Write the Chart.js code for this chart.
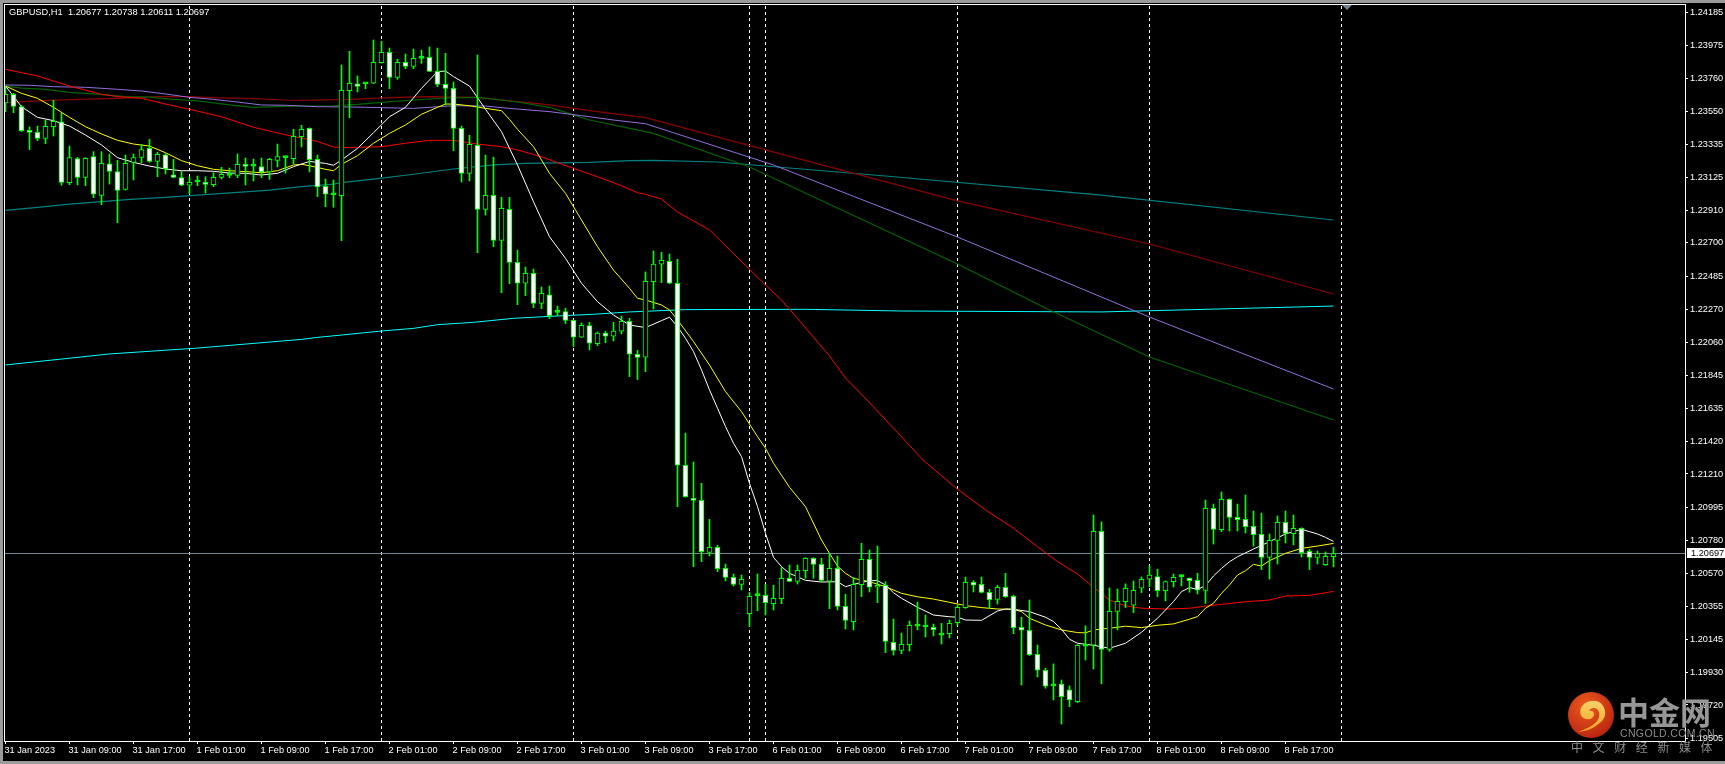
<!DOCTYPE html>
<html>
<head>
<meta charset="utf-8">
<title>GBPUSD,H1</title>
<script src="https://cdn.jsdelivr.net/npm/chart.js@4/dist/chart.umd.min.js"></script>
<style>
html, body { margin: 0; padding: 0; background: #000; overflow: hidden; }
#wrap { position: relative; width: 1725px; height: 764px; background: #000; overflow: hidden; }
#chart { position: absolute; left: 0; top: 0; }
.strip { position: absolute; background: #9b9b9b; }
.txt { position: absolute; white-space: pre; font-family: "Liberation Sans", sans-serif; }
#head { left: 9px; top: 6px; font-size: 9.3px; line-height: 13px; color: #fff; }
#mark { left: 1342px; top: 5px; width: 0; height: 0; position: absolute;
  border-left: 5px solid transparent; border-right: 5px solid transparent; border-top: 5px solid #708090; }
#logo { position: absolute; left: 1568px; top: 692px; width: 46px; height: 46px; }
#wm1 { left: 1618px; top: 690px; font: bold 31px "Noto Sans CJK SC"; line-height: 42px; color: #979797; }
#wm2 { left: 1620px; top: 726px; font-size: 10.5px; line-height: 14px; color: #8c8c8c; letter-spacing: .35px; }
#wm3 { left: 1571px; top: 739px; font: 12px "Noto Sans CJK SC"; line-height: 16px; color: #8c8c8c; letter-spacing: 9.6px; }
</style>
</head>
<body>
<div id="wrap">
  <canvas id="chart" width="1725" height="764"></canvas>
  <div class="strip" style="left:0;top:0;width:1725px;height:3px"></div>
  <div class="strip" style="left:0;top:0;width:3px;height:764px"></div>
  <div class="strip" style="left:0;top:761px;width:1725px;height:3px"></div>
  <div id="head" class="txt">GBPUSD,H1  1.20677 1.20738 1.20611 1.20697</div>
  <div id="mark"></div>
  <svg id="logo" viewBox="0 0 46 46">
    <defs>
      <radialGradient id="ball" cx="40%" cy="30%" r="80%">
        <stop offset="0" stop-color="#ee5a1c"/><stop offset="1" stop-color="#b3200f"/>
      </radialGradient>
      <linearGradient id="swirl" x1="0" y1="0" x2="0" y2="1">
        <stop offset="0" stop-color="#f7d26a"/><stop offset="1" stop-color="#f2a31f"/>
      </linearGradient>
    </defs>
    <circle cx="23" cy="23" r="23" fill="url(#ball)"/>
    <path fill="url(#swirl)" d="M10 40c8-1 14-3 19-7 6-4 9-8 8-14-1-7-7-11-13-10-5 0-9 3-11 7-2 5 0 10 5 11 4 1 8-1 8-5 0-3-3-4-5-3 1-3 5-4 8-2 3 3 3 8 0 12-4 5-11 8-19 11z"/>
  </svg>
  <div id="wm1" class="txt">中金网</div>
  <div id="wm2" class="txt">CNGOLD.COM.CN</div>
  <div id="wm3" class="txt">中文财经新媒体</div>
</div>
<script>
const opens = [
  1.23603,1.23659,1.23579,1.23426,1.23413,1.23375,1.23450,1.23482,1.23089,1.23244,
  1.23123,1.23257,1.23007,1.23211,1.23160,1.23046,1.23220,1.23252,1.23310,1.23226,
  1.23269,1.23140,1.23121,1.23072,1.23093,1.23091,1.23076,1.23123,1.23136,1.23136,
  1.23205,1.23196,1.23192,1.23158,1.23233,1.23250,1.23244,1.23385,1.23439,1.23239,
  1.23065,1.23011,1.23005,1.23682,1.23727,1.23727,1.23730,1.23863,1.23929,1.23768,
  1.23865,1.23839,1.23891,1.23897,1.23807,1.23723,1.23697,1.23439,1.23149,1.23330,
  1.22917,1.23007,1.22717,1.22917,1.22575,1.22440,1.22504,1.22310,1.22366,1.22252,
  1.22257,1.22201,1.22092,1.22167,1.22051,1.22118,1.22098,1.22131,1.22195,1.21982,
  1.21963,1.22451,1.22563,1.22582,1.22440,1.21266,1.21053,1.21040,1.20704,1.20737,
  1.20601,1.20543,1.20498,1.20309,1.20425,1.20427,1.20373,1.20406,1.20537,1.20517,
  1.20586,1.20666,1.20627,1.20519,1.20601,1.20356,1.20257,1.20496,1.20659,1.20479,
  1.20492,1.20124,1.20072,1.20109,1.20229,1.20223,1.20221,1.20171,1.20180,1.20251,
  1.20348,1.20511,1.20498,1.20446,1.20401,1.20479,1.20421,1.20221,1.20202,1.20047,
  1.19944,1.19843,1.19854,1.19817,1.19742,1.20099,1.20105,1.20840,1.20079,1.20324,
  1.20387,1.20363,1.20473,1.20531,1.20548,1.20458,1.20516,1.20548,1.20537,1.20524,
  1.20459,1.20988,1.20851,1.21046,1.20930,1.20917,1.20872,1.20821,1.20672,1.20782,
  1.20898,1.20825,1.20859,1.20711,1.20672,1.20625,1.20677
];
const highs = [
  1.23712,1.23665,1.23588,1.23448,1.23454,1.23493,1.23620,1.23536,1.23325,1.23252,
  1.23250,1.23289,1.23289,1.23274,1.23233,1.23267,1.23274,1.23336,1.23368,1.23285,
  1.23276,1.23239,1.23162,1.23127,1.23132,1.23127,1.23153,1.23188,1.23183,1.23274,
  1.23248,1.23241,1.23248,1.23246,1.23338,1.23257,1.23433,1.23459,1.23442,1.23267,
  1.23112,1.23106,1.23848,1.23936,1.23777,1.23732,1.24009,1.24000,1.23957,1.23886,
  1.23919,1.23951,1.23944,1.23964,1.23957,1.23923,1.23738,1.23454,1.23394,1.23912,
  1.23267,1.23254,1.22994,1.22994,1.22654,1.22545,1.22532,1.22416,1.22422,1.22293,
  1.22279,1.22205,1.22184,1.22188,1.22126,1.22131,1.22188,1.22229,1.22214,1.22008,
  1.22513,1.22649,1.22640,1.22629,1.22595,1.21474,1.21287,1.21150,1.20917,1.20750,
  1.20629,1.20565,1.20558,1.20446,1.20565,1.20498,1.20492,1.20606,1.20623,1.20623,
  1.20670,1.20670,1.20666,1.20698,1.20681,1.20434,1.20543,1.20763,1.20720,1.20745,
  1.20515,1.20274,1.20184,1.20262,1.20384,1.20300,1.20242,1.20246,1.20268,1.20365,
  1.20545,1.20522,1.20545,1.20466,1.20492,1.20569,1.20429,1.20286,1.20397,1.20107,
  1.19957,1.19985,1.19881,1.19843,1.20109,1.20230,1.20946,1.20901,1.20475,1.20468,
  1.20501,1.20520,1.20546,1.20617,1.20595,1.20520,1.20565,1.20559,1.20540,1.20570,
  1.21042,1.21016,1.21094,1.21050,1.21016,1.21074,1.20971,1.20958,1.20823,1.20939,
  1.20971,1.20945,1.20863,1.20724,1.20713,1.20707,1.20738
];
const lows = [
  1.23547,1.23540,1.23418,1.23302,1.23360,1.23340,1.23390,1.23072,1.23076,1.23074,
  1.23069,1.22992,1.22947,1.23080,1.22831,1.23041,1.23106,1.23218,1.23220,1.23127,
  1.23145,1.23120,1.23069,1.23016,1.23069,1.23022,1.23063,1.23112,1.23121,1.23121,
  1.23074,1.23100,1.23121,1.23110,1.23190,1.23151,1.23209,1.23319,1.23158,1.22999,
  1.22934,1.22930,1.22715,1.23508,1.23674,1.23695,1.23727,1.23860,1.23695,1.23755,
  1.23824,1.23824,1.23858,1.23805,1.23708,1.23590,1.23295,1.23093,1.23100,1.22637,
  1.22880,1.22676,1.22379,1.22437,1.22302,1.22360,1.22283,1.22276,1.22212,1.22229,
  1.22180,1.22032,1.22090,1.22010,1.22038,1.22057,1.22068,1.22113,1.21838,1.21819,
  1.21870,1.22274,1.22444,1.22436,1.20999,1.21060,1.20612,1.20644,1.20681,1.20580,
  1.20520,1.20487,1.20462,1.20225,1.20328,1.20300,1.20333,1.20373,1.20515,1.20500,
  1.20537,1.20537,1.20515,1.20341,1.20333,1.20210,1.20204,1.20419,1.20449,1.20380,
  1.20057,1.20042,1.20051,1.20068,1.20204,1.20158,1.20165,1.20113,1.20152,1.20234,
  1.20343,1.20449,1.20442,1.20343,1.20371,1.20414,1.20180,1.19849,1.20038,1.19901,
  1.19828,1.19752,1.19597,1.19709,1.19735,1.20010,1.19952,1.19856,1.20066,1.20204,
  1.20348,1.20316,1.20445,1.20483,1.20419,1.20391,1.20481,1.20488,1.20447,1.20436,
  1.20375,1.20758,1.20838,1.20842,1.20842,1.20829,1.20745,1.20593,1.20532,1.20629,
  1.20765,1.20752,1.20674,1.20593,1.20629,1.20620,1.20611
];
const closes = [
  1.23659,1.23581,1.23424,1.23413,1.23375,1.23452,1.23484,1.23091,1.23250,1.23123,
  1.23246,1.23014,1.23213,1.23162,1.23039,1.23213,1.23250,1.23302,1.23226,1.23272,
  1.23177,1.23123,1.23072,1.23091,1.23096,1.23078,1.23123,1.23143,1.23139,1.23207,
  1.23194,1.23198,1.23158,1.23239,1.23257,1.23252,1.23388,1.23433,1.23237,1.23061,
  1.23014,1.23012,1.23684,1.23730,1.23710,1.23730,1.23865,1.23929,1.23768,1.23865,
  1.23839,1.23891,1.23893,1.23807,1.23723,1.23697,1.23439,1.23149,1.23336,1.22917,
  1.23007,1.22717,1.22923,1.22575,1.22440,1.22504,1.22310,1.22375,1.22231,1.22254,
  1.22201,1.22092,1.22169,1.22053,1.22118,1.22098,1.22131,1.22195,1.21982,1.21961,
  1.22453,1.22563,1.22588,1.22440,1.21266,1.21063,1.21040,1.20709,1.20737,1.20599,
  1.20543,1.20498,1.20530,1.20421,1.20427,1.20380,1.20408,1.20537,1.20517,1.20588,
  1.20666,1.20627,1.20524,1.20601,1.20356,1.20266,1.20498,1.20659,1.20479,1.20492,
  1.20130,1.20072,1.20111,1.20234,1.20231,1.20225,1.20206,1.20173,1.20247,1.20350,
  1.20511,1.20492,1.20446,1.20399,1.20479,1.20418,1.20219,1.20202,1.20045,1.19944,
  1.19841,1.19845,1.19774,1.19753,1.20105,1.20101,1.20840,1.20079,1.20324,1.20389,
  1.20473,1.20460,1.20531,1.20557,1.20458,1.20516,1.20544,1.20550,1.20522,1.20460,
  1.20988,1.20853,1.21046,1.20930,1.20915,1.20870,1.20818,1.20672,1.20782,1.20898,
  1.20827,1.20859,1.20702,1.20672,1.20696,1.20679,1.20697
];

// moving averages, [bar, price]
const whiteMa = [[0,1.23712],[2,1.23579],[4,1.23510],[6,1.23489],[8,1.23454],[10,1.23396],[12,1.23332],[14,1.23250],[16,1.23220],[18,1.23196],[20,1.23177],[22,1.23166],[24,1.23166],[26,1.23162],[28,1.23151],[30,1.23149],[32,1.23138],[34,1.23149],[36,1.23192],[38,1.23226],[40,1.23213],[41,1.23201],[42,1.23235],[44,1.23310],[46,1.23411],[48,1.23514],[50,1.23575],[52,1.23697],[54,1.23805],[55,1.23809],[56,1.23773],[58,1.23712],[60,1.23562],[62,1.23418],[64,1.23203],[66,1.22966],[68,1.22740],[70,1.22601],[72,1.22440],[74,1.22321],[76,1.22235],[78,1.22171],[80,1.22154],[82,1.22199],[83,1.22221],[84,1.22160],[85,1.22085],[86,1.21999],[87,1.21881],[88,1.21752],[89,1.21634],[90,1.21516],[91,1.21408],[92,1.21322],[93,1.21149],[94,1.21000],[95,1.20827],[96,1.20672],[97,1.20612],[98,1.20569],[100,1.20524],[102,1.20513],[104,1.20515],[105,1.20483],[106,1.20498],[108,1.20522],[109,1.20522],[110,1.20494],[111,1.20444],[112,1.20408],[114,1.20350],[116,1.20300],[118,1.20289],[119,1.20286],[120,1.20268],[122,1.20266],[124,1.20326],[125,1.20339],[126,1.20337],[128,1.20322],[130,1.20286],[131,1.20258],[132,1.20208],[133,1.20144],[134,1.20118],[136,1.20105],[138,1.20086],[140,1.20118],[142,1.20189],[144,1.20279],[146,1.20387],[147,1.20451],[148,1.20477],[149,1.20466],[150,1.20489],[151,1.20552],[152,1.20601],[153,1.20644],[154,1.20676],[156,1.20726],[158,1.20773],[160,1.20823],[162,1.20853],[163,1.20838],[164,1.20823],[165,1.20801],[166,1.20775]];
const yellowMa = [[0,1.23712],[2,1.23665],[4,1.23633],[6,1.23575],[8,1.23510],[10,1.23450],[12,1.23403],[14,1.23362],[16,1.23338],[18,1.23325],[20,1.23282],[22,1.23231],[24,1.23198],[26,1.23175],[28,1.23166],[30,1.23160],[32,1.23153],[34,1.23166],[36,1.23203],[37,1.23207],[38,1.23198],[40,1.23175],[41,1.23166],[42,1.23207],[44,1.23263],[46,1.23343],[48,1.23407],[50,1.23461],[52,1.23530],[54,1.23575],[55,1.23596],[56,1.23596],[58,1.23585],[60,1.23568],[62,1.23553],[63,1.23497],[64,1.23433],[66,1.23321],[68,1.23149],[70,1.23020],[72,1.22848],[74,1.22676],[76,1.22525],[78,1.22407],[79,1.22343],[80,1.22332],[82,1.22300],[83,1.22268],[84,1.22204],[86,1.22064],[88,1.21913],[90,1.21741],[92,1.21612],[94,1.21451],[95,1.21376],[96,1.21279],[98,1.21124],[100,1.20999],[102,1.20784],[103,1.20698],[104,1.20616],[105,1.20569],[106,1.20537],[108,1.20515],[110,1.20483],[112,1.20440],[114,1.20418],[116,1.20403],[118,1.20382],[120,1.20361],[122,1.20348],[124,1.20339],[126,1.20337],[127,1.20322],[128,1.20279],[130,1.20236],[132,1.20204],[134,1.20187],[135,1.20185],[136,1.20204],[138,1.20215],[140,1.20228],[142,1.20219],[144,1.20234],[146,1.20243],[148,1.20273],[149,1.20290],[150,1.20344],[151,1.20376],[152,1.20440],[153,1.20494],[154,1.20558],[155,1.20586],[156,1.20627],[157,1.20616],[158,1.20651],[160,1.20698],[162,1.20730],[164,1.20745],[166,1.20762]];
const redMa = [[0,1.23820],[4,1.23777],[8,1.23712],[12,1.23659],[14,1.23644],[17,1.23633],[20,1.23596],[23,1.23562],[27,1.23514],[31,1.23446],[35,1.23398],[39,1.23355],[41,1.23318],[43,1.23315],[47,1.23321],[50,1.23343],[53,1.23362],[56,1.23362],[59,1.23338],[62,1.23321],[64,1.23300],[67,1.23256],[69,1.23218],[71,1.23181],[74,1.23127],[77,1.23069],[79,1.23024],[80,1.23014],[82,1.22983],[84,1.22900],[88,1.22784],[93,1.22530],[95,1.22429],[97,1.22332],[99,1.22214],[103,1.21971],[105,1.21829],[107.7,1.21687],[111.5,1.21478],[114.7,1.21300],[118.7,1.21124],[122.5,1.20978],[126,1.20860],[129,1.20741],[131.5,1.20645],[134,1.20565],[136,1.20479],[138,1.20397],[140,1.20359],[142,1.20344],[145,1.20339],[148,1.20344],[150,1.20358],[152,1.20369],[155,1.20386],[158,1.20397],[160,1.20423],[163,1.20427],[165,1.20444],[166,1.20453]];
const darkRedMa = [[0,1.23605],[4,1.23616],[9,1.23626],[14,1.23633],[19,1.23644],[23,1.23644],[26,1.23637],[31,1.23631],[35,1.23622],[37,1.23620],[43,1.23626],[49,1.23639],[53,1.23644],[59,1.23639],[63,1.23616],[68,1.23590],[71,1.23568],[74,1.23547],[80,1.23508],[95,1.23300],[119,1.22971],[143,1.22693],[166,1.22371]];
const tealMa = [[0,1.22910],[4,1.22930],[8,1.22951],[12,1.22966],[16,1.22983],[20,1.22994],[24,1.23009],[29,1.23026],[33,1.23041],[37,1.23063],[41,1.23080],[42,1.23089],[46,1.23112],[51,1.23143],[56,1.23177],[61,1.23203],[65,1.23213],[73,1.23220],[78,1.23231],[81,1.23233],[89,1.23222],[110,1.23132],[137,1.23009],[166,1.22848]];
const cyanMa = [[0,1.21913],[13,1.21984],[24,1.22022],[37,1.22078],[39,1.22091],[42,1.22106],[47,1.22132],[51,1.22149],[54,1.22173],[58.5,1.22188],[63.5,1.22214],[69,1.22229],[73.5,1.22240],[78,1.22255],[85,1.22270],[100,1.22272],[112,1.22261],[137,1.22255],[166,1.22293]];
const purpleMa = [[0,1.23719],[3,1.23717],[6,1.23708],[10,1.23704],[14,1.23691],[17,1.23680],[20,1.23661],[23,1.23639],[26,1.23626],[29,1.23609],[32,1.23590],[35,1.23588],[39,1.23579],[43,1.23577],[45,1.23575],[51,1.23568],[56,1.23585],[60,1.23583],[63,1.23568],[68,1.23547],[72,1.23521],[76,1.23493],[80,1.23469],[96,1.23203],[119,1.22738],[143,1.22222],[166,1.21758]];
const greenMa = [[0,1.23712],[2,1.23699],[5,1.23691],[8,1.23671],[11,1.23661],[15,1.23644],[18,1.23641],[21,1.23626],[24,1.23616],[28,1.23590],[31,1.23575],[36,1.23583],[41,1.23585],[44,1.23594],[47,1.23607],[51,1.23622],[55,1.23635],[59,1.23639],[61,1.23628],[64,1.23609],[68,1.23575],[70,1.23542],[73,1.23493],[77,1.23450],[81,1.23407],[93,1.23190],[119,1.22564],[130,1.22280],[143,1.21964],[166,1.21558]];

const priceTicks = [1.24185,1.23975,1.23760,1.23550,1.23335,1.23125,1.22910,1.22700,1.22485,1.22270,1.22060,1.21845,1.21635,1.21420,1.21210,1.20995,1.20780,1.20570,1.20355,1.20145,1.19930,1.19720,1.19505];
const timeTickBars = [0,8,16,24,32,40,48,56,64,72,80,88,96,104,112,120,128,136,144,152,160];
const timeTickLabels = ['31 Jan 2023','31 Jan 09:00','31 Jan 17:00','1 Feb 01:00','1 Feb 09:00','1 Feb 17:00','2 Feb 01:00','2 Feb 09:00','2 Feb 17:00','3 Feb 01:00','3 Feb 09:00','3 Feb 17:00','6 Feb 01:00','6 Feb 09:00','6 Feb 17:00','7 Feb 01:00','7 Feb 09:00','7 Feb 17:00','8 Feb 01:00','8 Feb 09:00','8 Feb 17:00'];
const separatorBars = [23,47,71,93,95,119,143,167];
const bidPrice = 1.20697;

const PRICE_MAX = 1.242348, PRICE_MIN = 1.194876;
const BAR_MIN = -0.0625, BAR_MAX = 209.9375;
const GREEN = '#00ff00';

function maLine(points, color, order, width) {
    return {
        type: 'line', data: points.map(p => ({ x: p[0], y: p[1] })),
        borderColor: color, borderWidth: width, pointRadius: 0, tension: 0, order
    };
}

const wicks = {
    type: 'bar', grouped: false, barThickness: 1, backgroundColor: GREEN, order: 2,
    data: highs.map((h, i) => ({ x: i, y: [lows[i], h] }))
};
const bodies = {
    type: 'bar', grouped: false, barThickness: 5, minBarLength: 2, order: 1,
    borderColor: GREEN, borderWidth: 1, borderSkipped: false,
    backgroundColor: ctx => {
        const i = ctx.dataIndex;
        if (Math.abs(opens[i] - closes[i]) < 0.00008) return GREEN;
        return closes[i] >= opens[i] ? '#000000' : '#ffffff';
    },
    data: opens.map((o, i) => ({ x: i, y: [Math.min(o, closes[i]), Math.max(o, closes[i])] }))
};
const separators = separatorBars.map(b => ({
    type: 'line', data: [{ x: b, y: PRICE_MIN }, { x: b, y: PRICE_MAX }],
    borderColor: '#ffffff', borderWidth: 1, borderDash: [3, 3], pointRadius: 0, order: 100
}));
const bidLine = {
    type: 'line', data: [{ x: BAR_MIN, y: bidPrice }, { x: BAR_MAX, y: bidPrice }],
    borderColor: '#778899', borderWidth: 1, pointRadius: 0, order: 90
};

// frame of the plot and the price tag on the axis
const framePlugin = {
    id: 'frame',
    afterDraw(chart) {
        const c = chart.ctx, a = chart.chartArea;
        c.save();
        c.strokeStyle = '#ffffff';
        c.lineWidth = 1;
        c.strokeRect(a.left - 0.5, a.top - 0.5, a.right - a.left + 1, a.bottom - a.top + 1);
        const y = chart.scales.y.getPixelForValue(bidPrice);
        c.fillStyle = '#ffffff';
        c.fillRect(a.right + 2, Math.round(y) - 5, 38, 10);
        c.fillStyle = '#000000';
        c.font = '9.2px "Liberation Sans"';
        c.textBaseline = 'middle';
        c.fillText(bidPrice.toFixed(5), a.right + 6, Math.round(y));
        c.restore();
    }
};

new Chart(document.getElementById('chart'), {
    type: 'bar',
    data: {
        datasets: [
            ...separators, bidLine,
            maLine(cyanMa, '#00ffff', 58, 1),
            maLine(tealMa, '#008080', 57, 1.2),
            maLine(darkRedMa, '#8b0000', 56, 1.2),
            maLine(greenMa, '#006400', 55, 1.2),
            maLine(purpleMa, '#9370db', 54, 1),
            maLine(redMa, '#ff0000', 53, 1),
            maLine(yellowMa, '#ffff00', 52, 1),
            maLine(whiteMa, '#ffffff', 51, 1),
            wicks, bodies
        ]
    },
    plugins: [framePlugin],
    options: {
        responsive: false,
        animation: false,
        events: [],
        layout: { padding: { left: 5, top: 5, right: 0, bottom: 0 } },
        plugins: { legend: { display: false }, tooltip: { enabled: false }, title: { display: false } },
        scales: {
            x: {
                type: 'linear', min: BAR_MIN, max: BAR_MAX, offset: false,
                border: { display: false },
                grid: { offset: false, drawOnChartArea: false, drawTicks: true, tickLength: 3, tickColor: '#ffffff' },
                ticks: {
                    color: '#ffffff', font: { family: 'Liberation Sans', size: 9.2 },
                    align: 'start', labelOffset: -1, padding: 1, maxRotation: 0, autoSkip: false,
                    callback: v => timeTickLabels[timeTickBars.indexOf(v)]
                },
                afterBuildTicks: axis => { axis.ticks = timeTickBars.map(v => ({ value: v })); },
                afterFit: axis => { axis.height = 23; axis.paddingLeft = 0; axis.paddingRight = 0; }
            },
            y: {
                type: 'linear', position: 'right', min: PRICE_MIN, max: PRICE_MAX,
                border: { display: false },
                grid: { drawOnChartArea: false, drawTicks: true, tickLength: 3, tickColor: '#ffffff' },
                ticks: {
                    color: '#ffffff', font: { family: 'Liberation Sans', size: 9.2 },
                    padding: 2, autoSkip: false,
                    callback: v => v.toFixed(5)
                },
                afterBuildTicks: axis => { axis.ticks = priceTicks.map(v => ({ value: v })); },
                afterFit: axis => { axis.width = 40; axis.paddingTop = 0; axis.paddingBottom = 0; }
            }
        }
    }
});
</script>
</body>
</html>
